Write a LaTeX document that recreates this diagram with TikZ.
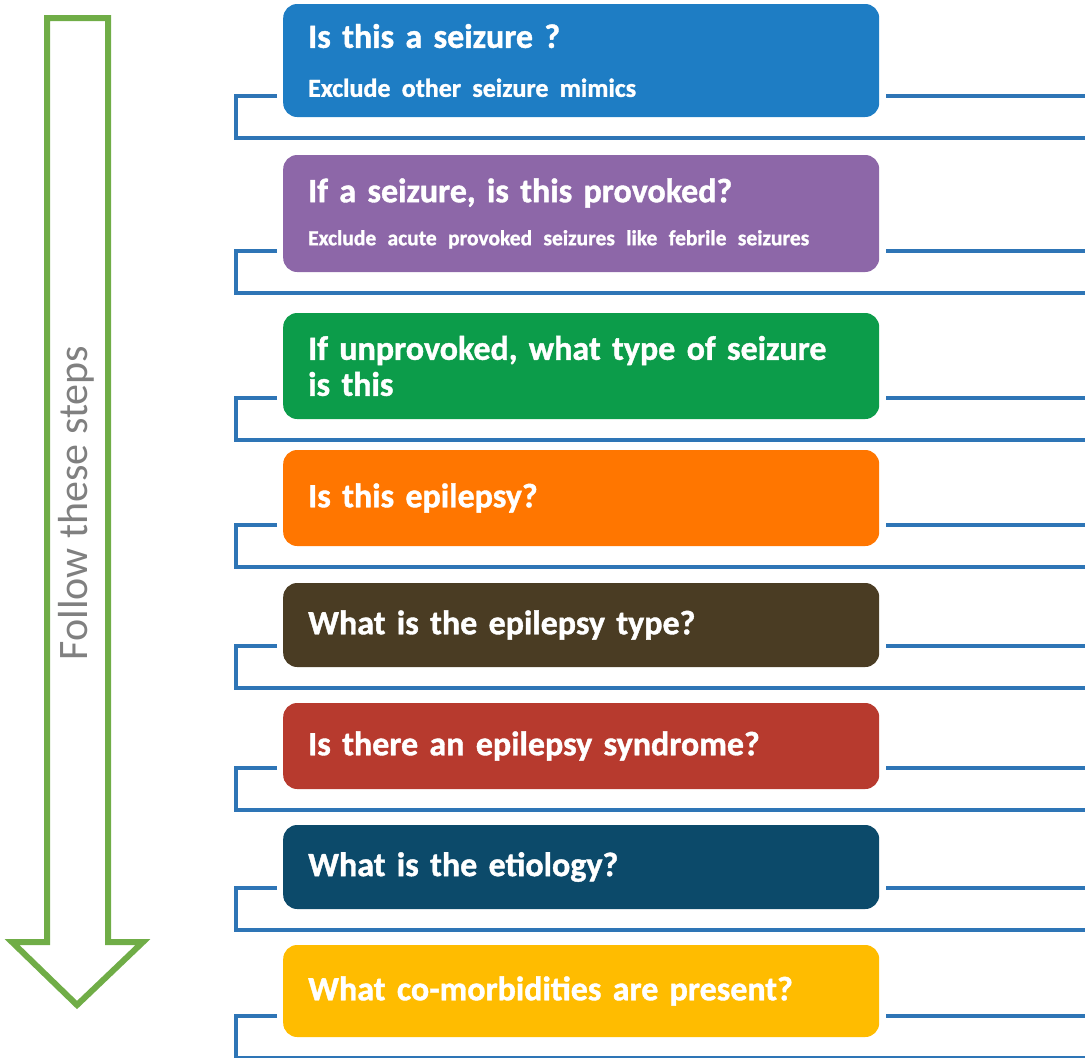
\documentclass[tikz,border=0pt]{standalone}
\usepackage{fontspec}
\setmainfont{Carlito}[BoldFeatures={FakeBold=1.2}]
\usepackage{xcolor}
\usepackage{tikz}
\usetikzlibrary{positioning}
\definecolor{box-blue}{RGB}{30,125,196}
\definecolor{box-purple}{RGB}{141,103,168}
\definecolor{box-green}{RGB}{12,156,74}
\definecolor{box-orange}{RGB}{255,118,0}
\definecolor{box-brown}{RGB}{74,60,35}
\definecolor{box-red}{RGB}{183,58,46}
\definecolor{box-navy}{RGB}{12,74,106}
\definecolor{box-yellow}{RGB}{255,188,0}
\definecolor{rail-blue}{RGB}{46,117,182}
\definecolor{arrow-green}{RGB}{112,173,71}
\definecolor{steps-gray}{RGB}{128,128,128}
\tikzset{
  every picture/.style = {
    x = 1pt,
    y = -1pt,
  }
  ,
  step-box/.style = {
    rectangle,
    rounded corners = 14pt,
    anchor = west,
    text = white,
    align = left,
    text width = 546pt,
    inner xsep = 25pt,
    inner ysep = 0pt,
    font = \bfseries\fontsize{34}{36}\selectfont
  }
  , % second line of a box
  step-note/.style = {
    font = \bfseries\fontsize{#1}{36}\selectfont
  }
  , % bracket under each box
  rail/.style = {
    draw = rail-blue,
    line width = 4.5pt
  }
  , % big outlined arrow
  steps-arrow/.style = {
    draw = arrow-green,
    line width = 6pt,
    line join = miter
  }
  , % text inside the arrow
  label-steps/.style = {
    rotate = 90,
    text = steps-gray,
    font = \fontsize{42}{44}\selectfont
  }
}

\begin{document}
\begin{tikzpicture}
		\useasboundingbox (0,0) rectangle (1085,1058);
		\draw[steps-arrow] (47,18) -- (108,18) -- (108,942) -- (143,942) -- (77,1005) -- (12,942) -- (47,942) -- cycle;
		\node[label-steps] (follow) at (76,503) {Follow these steps};
		\node[step-box, fill=box-blue, minimum height=113pt] (b1) at (283,60.5) {Is this a seizure ?\\[13pt]{\fontsize{26}{36}\selectfont Exclude other seizure mimics}};
		\node[step-box, fill=box-purple, minimum height=117pt] (b2) at (283,213.5) {If a seizure, is this provoked?\\[7pt]{\fontsize{21.5}{36}\selectfont Exclude acute provoked seizures like febrile seizures}};
		\node[step-box, fill=box-green, minimum height=106pt] (b3) at (283,366) {If unprovoked, what type of seizure\\is this};
		\node[step-box, fill=box-orange, minimum height=96pt] (b4) at (283,498) {Is this epilepsy?};
		\node[step-box, fill=box-brown, minimum height=84pt] (b5) at (283,625) {What is the epilepsy type?};
		\node[step-box, fill=box-red, minimum height=86pt] (b6) at (283,746) {Is there an epilepsy syndrome?};
		\node[step-box, fill=box-navy, minimum height=84pt] (b7) at (283,867) {What is the etiology?};
		\node[step-box, fill=box-yellow, minimum height=92pt] (b8) at (283,991) {What co-morbidities are present?};
		% left brackets and right stubs
		\draw[rail] ([xshift=-6pt,yshift=21pt]b1.south west) -- ++(-41,0) |- ++(849,42);
		\draw[rail] ([xshift=7pt,yshift=21pt]b1.south east) -- ++(199,0);
		\draw[rail] ([xshift=-6pt,yshift=21pt]b2.south west) -- ++(-41,0) |- ++(849,42);
		\draw[rail] ([xshift=7pt,yshift=21pt]b2.south east) -- ++(199,0);
		\draw[rail] ([xshift=-6pt,yshift=21pt]b3.south west) -- ++(-41,0) |- ++(849,42);
		\draw[rail] ([xshift=7pt,yshift=21pt]b3.south east) -- ++(199,0);
		\draw[rail] ([xshift=-6pt,yshift=21pt]b4.south west) -- ++(-41,0) |- ++(849,42);
		\draw[rail] ([xshift=7pt,yshift=21pt]b4.south east) -- ++(199,0);
		\draw[rail] ([xshift=-6pt,yshift=21pt]b5.south west) -- ++(-41,0) |- ++(849,42);
		\draw[rail] ([xshift=7pt,yshift=21pt]b5.south east) -- ++(199,0);
		\draw[rail] ([xshift=-6pt,yshift=21pt]b6.south west) -- ++(-41,0) |- ++(849,42);
		\draw[rail] ([xshift=7pt,yshift=21pt]b6.south east) -- ++(199,0);
		\draw[rail] ([xshift=-6pt,yshift=21pt]b7.south west) -- ++(-41,0) |- ++(849,42);
		\draw[rail] ([xshift=7pt,yshift=21pt]b7.south east) -- ++(199,0);
		\draw[rail] ([xshift=-6pt,yshift=21pt]b8.south west) -- ++(-41,0) |- ++(849,42);
		\draw[rail] ([xshift=7pt,yshift=21pt]b8.south east) -- ++(199,0);
		\end{tikzpicture}
\end{document}
